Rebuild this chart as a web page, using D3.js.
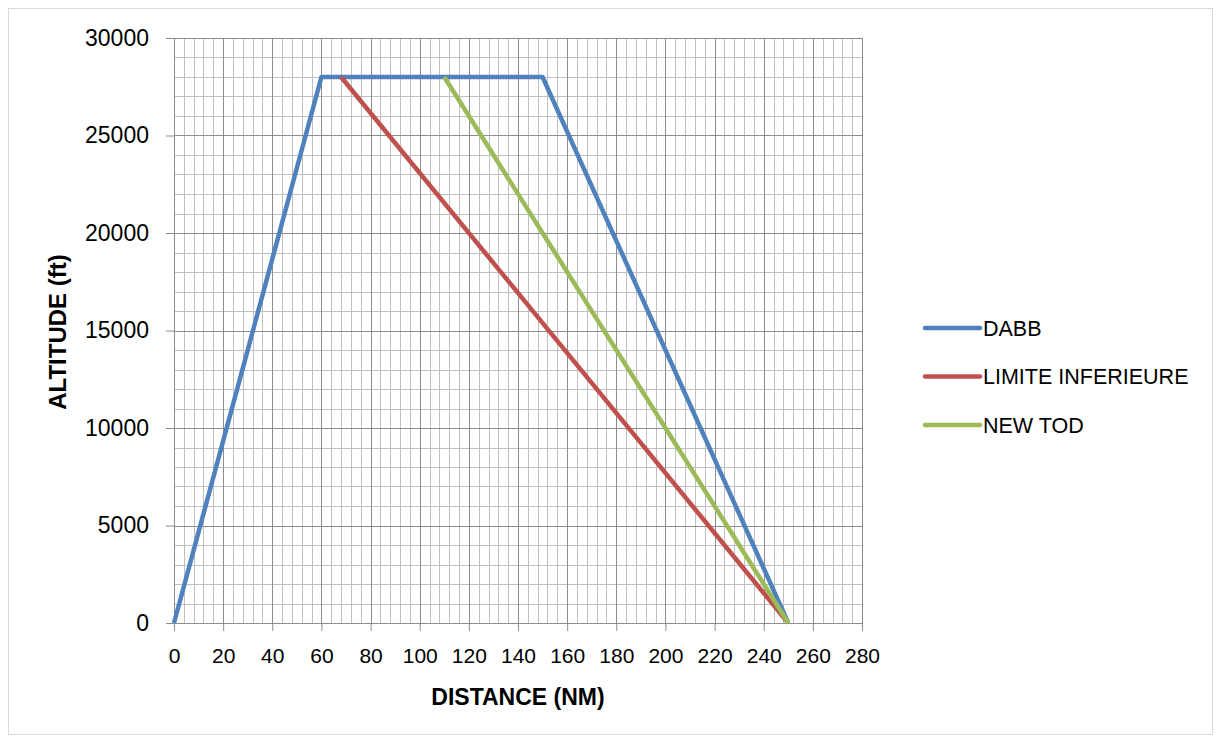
<!DOCTYPE html>
<html>
<head>
<meta charset="utf-8">
<script src="https://cdn.jsdelivr.net/npm/d3@7"></script>
<style>
  body { margin: 0; background: #fff; }
  text { fill: #000; font-family: "Liberation Sans", Arial, sans-serif; }
</style>
</head>
<body>
<div id="chart"></div>
<script>
// chart values
const seriesNames = ["DABB", "LIMITE INFERIEURE", "NEW TOD"];
const seriesColors = ["#4F81BD", "#C0504D", "#9BBB59"];
const dabbDist = [0, 60, 150, 250];
const dabbAlt = [0, 28000, 28000, 0];
const limiteDist = [68, 250];
const limiteAlt = [28000, 0];
const newTodDist = [110, 250];
const newTodAlt = [28000, 0];
const xTicks = [0, 20, 40, 60, 80, 100, 120, 140, 160, 180, 200, 220, 240, 260, 280];
const yTicks = [0, 5000, 10000, 15000, 20000, 25000, 30000];

const W = 1220, H = 742;
const margin = {top: 38, right: 358, bottom: 119, left: 174};
const width = W - margin.left - margin.right;
const height = H - margin.top - margin.bottom;

const svg = d3.select("#chart").append("svg")
    .attr("width", W)
    .attr("height", H);

// outer chart border
svg.append("rect")
    .attr("x", 8.5).attr("y", 8.5)
    .attr("width", W - 16).attr("height", H - 16)
    .attr("fill", "#fff")
    .attr("stroke", "#d9d9d9");

const g = svg.append("g")
    .attr("transform", "translate(" + margin.left + "," + margin.top + ")");

const x = d3.scaleLinear().domain([0, 280]).range([0, width]);
const y = d3.scaleLinear().domain([0, 30000]).range([height, 0]);

// minor grid
g.append("g")
    .selectAll("line")
    .data(d3.range(0, 281, 4).filter(d => d % 20 !== 0))
    .join("line")
    .attr("x1", d => Math.round(x(d)) + 0.5).attr("x2", d => Math.round(x(d)) + 0.5)
    .attr("y1", 0).attr("y2", height)
    .attr("stroke", "#bfbfbf").attr("stroke-width", 1);

g.append("g")
    .selectAll("line")
    .data(d3.range(0, 30001, 1000).filter(d => d % 5000 !== 0))
    .join("line")
    .attr("x1", 0).attr("x2", width)
    .attr("y1", d => Math.round(y(d)) + 0.5).attr("y2", d => Math.round(y(d)) + 0.5)
    .attr("stroke", "#bfbfbf").attr("stroke-width", 1);

// major grid
g.append("g")
    .selectAll("line")
    .data(xTicks)
    .join("line")
    .attr("x1", d => Math.round(x(d)) + 0.5).attr("x2", d => Math.round(x(d)) + 0.5)
    .attr("y1", 0).attr("y2", height)
    .attr("stroke", "#8c8c8c").attr("stroke-width", 1);

g.append("g")
    .selectAll("line")
    .data(yTicks)
    .join("line")
    .attr("x1", 0).attr("x2", width)
    .attr("y1", d => Math.round(y(d)) + 0.5).attr("y2", d => Math.round(y(d)) + 0.5)
    .attr("stroke", "#8c8c8c").attr("stroke-width", 1);

// axes
const xAxis = d3.axisBottom(x).tickValues(xTicks).tickFormat(d3.format("d")).tickSize(8).tickPadding(17);
const yAxis = d3.axisLeft(y).tickValues(yTicks).tickFormat(d3.format("d")).tickSize(8).tickPadding(17);

const gx = g.append("g")
    .attr("transform", "translate(0," + height + ")")
    .call(xAxis);
const gy = g.append("g").call(yAxis);

[gx, gy].forEach(a => {
    a.select(".domain").attr("stroke", "#8c8c8c");
    a.selectAll(".tick line").attr("stroke", "#8c8c8c");
    a.selectAll(".tick text").attr("fill", "#000")
        .attr("font-family", "Liberation Sans, Arial, sans-serif");
});
gx.selectAll(".tick text").attr("font-size", 21);
gy.selectAll(".tick text").attr("font-size", 23);

// lines
const series = [
    {name: seriesNames[0], color: seriesColors[0], pts: dabbDist.map((d, i) => [d, dabbAlt[i]])},
    {name: seriesNames[1], color: seriesColors[1], pts: limiteDist.map((d, i) => [d, limiteAlt[i]])},
    {name: seriesNames[2], color: seriesColors[2], pts: newTodDist.map((d, i) => [d, newTodAlt[i]])}
];

const line = d3.line().x(d => x(d[0])).y(d => y(d[1]));

g.selectAll(".series")
    .data(series)
    .join("path")
    .attr("class", "series")
    .attr("d", d => line(d.pts))
    .attr("fill", "none")
    .attr("stroke", d => d.color)
    .attr("stroke-width", 4.5)
    .attr("stroke-linejoin", "round");

// axis titles
svg.append("text")
    .attr("x", 518)
    .attr("y", 705)
    .attr("text-anchor", "middle")
    .attr("font-size", 23)
    .attr("font-weight", "bold")
    .text("DISTANCE (NM)");

svg.append("text")
    .attr("transform", "translate(66,332) rotate(-90)")
    .attr("text-anchor", "middle")
    .attr("font-size", 24)
    .attr("font-weight", "bold")
    .text("ALTITUDE (ft)");

// legend
const legend = svg.append("g").attr("transform", "translate(925,328)");
const item = legend.selectAll("g")
    .data(series)
    .join("g")
    .attr("transform", (d, i) => "translate(0," + i * 48.5 + ")");
item.append("line")
    .attr("x1", 0).attr("x2", 55)
    .attr("stroke", d => d.color)
    .attr("stroke-width", 4.5)
    .attr("stroke-linecap", "round");
item.append("text")
    .attr("x", 58)
    .attr("dy", "0.36em")
    .attr("font-size", 21.5)
    .text(d => d.name);
</script>
</body>
</html>
